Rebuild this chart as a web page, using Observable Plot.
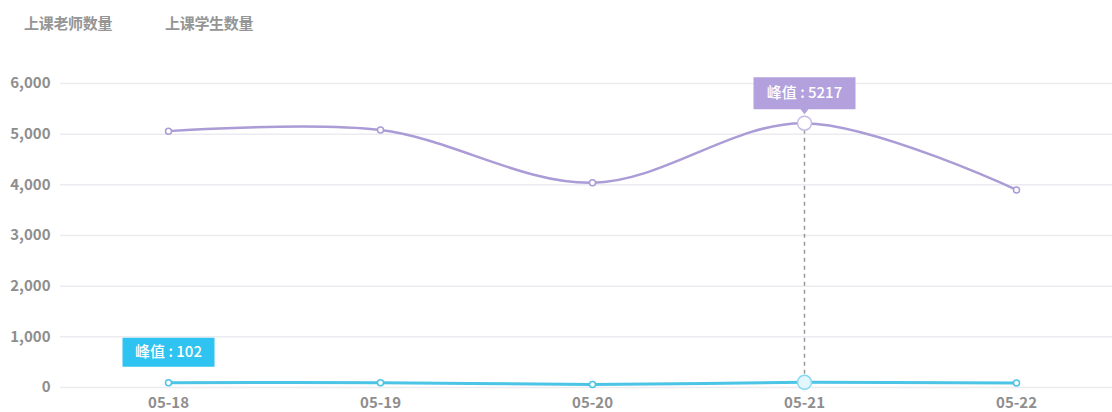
<!DOCTYPE html>
<html>
<head>
<meta charset="utf-8">
<script src="https://cdn.jsdelivr.net/npm/d3@7"></script>
<script src="https://cdn.jsdelivr.net/npm/@observablehq/plot@0.6"></script>
<style>
  html, body { margin: 0; padding: 0; background: #fff; }
  #wrap { width: 1112px; height: 412px; position: relative; font-family: "Noto Sans CJK SC", "Noto Sans", sans-serif; overflow: hidden; }
  #legend { height: 40px; position: relative; }
  #legend span { position: absolute; top: 12px; font-size: 15px; font-weight: bold; color: #959595; letter-spacing: -0.3px; }
</style>
</head>
<body>
<div id="wrap">
  <div id="legend"></div>
  <div id="chart"></div>
</div>
<script>
// ---- data ----
const dates = ["05-18", "05-19", "05-20", "05-21", "05-22"];
const students = [5060, 5080, 4040, 5217, 3900];
const teachers = [95, 95, 60, 102, 90];
const yTicks = [0, 1000, 2000, 3000, 4000, 5000, 6000];
const legendLabels = ["上课老师数量", "上课学生数量"];
const peakLabel = "峰值";

// ---- legend ----
const legend = document.getElementById("legend");
const legendX = [24, 165];
legendLabels.forEach((t, i) => {
  const s = document.createElement("span");
  s.textContent = t;
  s.style.left = legendX[i] + "px";
  legend.appendChild(s);
});

const data = dates.map((d, i) => ({date: d, students: students[i], teachers: teachers[i]}));
const peakIdx = students.indexOf(d3.max(students));
const peak = data[peakIdx];
const teacherPeak = d3.max(teachers);

const purple = "#ab9bd6";
const purpleBox = "#b3a1de";
const blue = "#4cc4e6";
const blueBox = "#2ec3f0";
const fmt = d3.format(",");

function boxSymbol(w, h, arrow) {
  return {
    draw(ctx) {
      ctx.moveTo(-w / 2, -h / 2);
      ctx.lineTo(w / 2, -h / 2);
      ctx.lineTo(w / 2, h / 2);
      if (arrow) {
        ctx.lineTo(4, h / 2);
        ctx.lineTo(0, h / 2 + 5);
        ctx.lineTo(-4, h / 2);
      }
      ctx.lineTo(-w / 2, h / 2);
      ctx.closePath();
    }
  };
}

const chart = Plot.plot({
  width: 1112,
  height: 372,
  marginLeft: 60,
  marginRight: 0,
  marginTop: 43,
  marginBottom: 25,
  style: {fontFamily: '"Noto Sans CJK SC", "Noto Sans", sans-serif', color: "#8e8e8e", background: "transparent", overflow: "visible"},
  x: {type: "point", domain: dates, range: [166, 1017], padding: 0},
  y: {domain: [0, 6000]},
  marks: [
    Plot.ruleY(yTicks, {stroke: "#ebebf0", strokeWidth: 1.5}),
    Plot.axisY({ticks: yTicks, tickFormat: fmt, tickSize: 0, tickPadding: 10, fontSize: 15, fontWeight: "bold", label: null}),
    Plot.axisX({tickSize: 0, tickPadding: 10, fontSize: 15, fontWeight: "bold", label: null}),
    Plot.line(data, {x: "date", y: "students", curve: "catmull-rom", stroke: purple, strokeWidth: 2.5}),
    Plot.line(data, {x: "date", y: "teachers", curve: "catmull-rom", stroke: blue, strokeWidth: 3}),
    Plot.ruleX([peak], {x: "date", y1: "teachers", y2: "students", stroke: "#999", strokeWidth: 1.5, strokeDasharray: "4,4"}),
    Plot.dot(data, {x: "date", y: "students", r: 3, fill: "white", stroke: purple, strokeWidth: 1.5}),
    Plot.dot(data, {x: "date", y: "teachers", r: 3, fill: "white", stroke: blue, strokeWidth: 1.5}),
    Plot.dot([peak], {x: "date", y: "students", r: 7, fill: "white", stroke: "#c6bbe6", strokeWidth: 1.5}),
    Plot.dot([peak], {x: "date", y: "teachers", r: 7, fill: "#e2f7fd", stroke: "#86daf0", strokeWidth: 1.5}),
    Plot.dot([peak], {x: "date", y: "students", dy: -30, symbol: boxSymbol(102, 32, true), fill: purpleBox, stroke: "none"}),
    Plot.text([peak], {x: "date", y: "students", dy: -30, text: d => `${peakLabel} : ${d.students}`, fill: "white", fontSize: 15, fontWeight: 500}),
    Plot.dot([{date: dates[0], v: teacherPeak}], {x: "date", y: "v", dy: -30, symbol: boxSymbol(92, 29, false), fill: blueBox, stroke: "none"}),
    Plot.text([{date: dates[0], v: teacherPeak}], {x: "date", y: "v", dy: -30, text: d => `${peakLabel} : ${d.v}`, fill: "white", fontSize: 15, fontWeight: 500})
  ]
});
document.getElementById("chart").appendChild(chart);
</script>
</body>
</html>
